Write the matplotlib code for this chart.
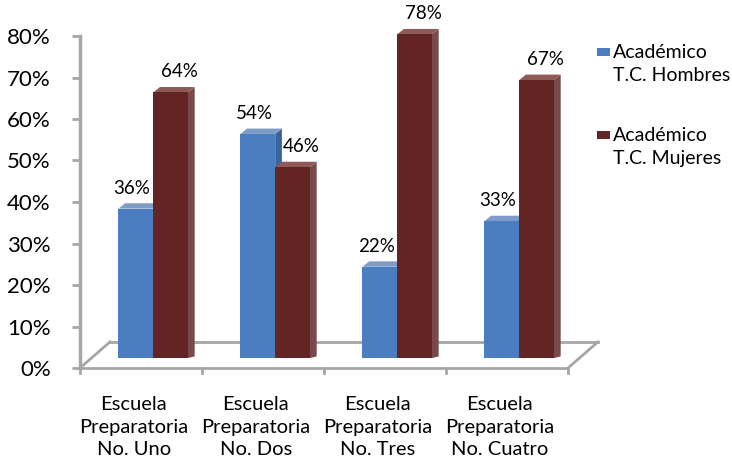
import numpy as np
import matplotlib.pyplot as plt
from matplotlib.patches import Rectangle, Polygon
from matplotlib.transforms import blended_transform_factory

plt.rcParams['font.family'] = ['Lato', 'DejaVu Sans']

escuelas = ['Escuela\nPreparatoria\nNo. Uno', 'Escuela\nPreparatoria\nNo. Dos',
            'Escuela\nPreparatoria\nNo. Tres', 'Escuela\nPreparatoria\nNo. Cuatro']
hombres = [36, 54, 22, 33]
mujeres = [64, 46, 78, 67]
series_names = ['Académico\nT.C. Hombres', 'Académico\nT.C. Mujeres']

# colours: front, side, top
c_blue = ('#4A7EC0', '#3A659C', '#7E9CC8')
c_red = ('#632523', '#7A4A4A', '#8E5A58')

fig = plt.figure(figsize=(7.32, 4.61), dpi=100)
W, H = 732, 461
ax = fig.add_axes([80 / W, (H - 368) / H, 520 / W, 332 / H])
ax.set_xlim(-0.5, -0.5 + 520 / 122)
ax.set_ylim(0, 80)
for s in ax.spines.values():
    s.set_visible(False)

grey = '#A6A6A6'
# 3D floor
ddx, ddy = 0.246, 6.3
ax.plot([-0.5, 3.5], [0, 0], color=grey, lw=2, clip_on=False, zorder=0.5)
ax.plot([-0.5, -0.5 + ddx], [0, ddy], color=grey, lw=2, clip_on=False, zorder=0.5)
ax.plot([-0.5 + ddx, 3.5 + ddx], [ddy, ddy], color=grey, lw=2, clip_on=False, zorder=0.5)
ax.plot([3.5, 3.5 + ddx], [0, ddy], color=grey, lw=2, clip_on=False, zorder=0.5)
ax.plot([-0.5, -0.5], [0, 80], color=grey, lw=2.5, clip_on=False, zorder=0.5)

ax.set_xticks([])
ax.set_yticks(np.arange(0, 81, 10))
ax.set_yticklabels(['%d%%' % v for v in range(0, 81, 10)], fontsize=16)
ax.tick_params(axis='y', length=6, width=2, color=grey, pad=15)
for xt in np.arange(-0.5, 3.6, 1):
    ax.plot([xt, xt], [0, -1.3], color=grey, lw=2, clip_on=False, zorder=0.5)

base = 2.4
bw = 0.285
shift = 0.1
sx, sy = 0.055, 1.3


def bar3d(x0, val, cols):
    front, side, top = cols
    y1 = base + val
    ax.add_patch(Polygon([[x0 + bw, base], [x0 + bw + sx, base + sy * 0.3],
                          [x0 + bw + sx, y1 + sy], [x0 + bw, y1]],
                         closed=True, fc=side, ec='none', clip_on=False, zorder=2))
    ax.add_patch(Polygon([[x0, y1], [x0 + sx, y1 + sy], [x0 + bw + sx, y1 + sy],
                          [x0 + bw, y1]], closed=True, fc=top, ec='none',
                         clip_on=False, zorder=2))
    ax.bar(x0, val, width=bw, bottom=base, align='edge', color=front,
           clip_on=False, zorder=2.1)


xs = np.arange(len(escuelas))
for i in xs:
    c = i + shift
    bar3d(c - bw, hombres[i], c_blue)
    bar3d(c, mujeres[i], c_red)
    ax.text(c - bw / 2 - 0.03, base + hombres[i] + 2.9, '%d%%' % hombres[i],
            ha='center', va='bottom', fontsize=13.5, clip_on=False)
    ax.text(c + bw / 2 + 0.07, base + mujeres[i] + 2.9, '%d%%' % mujeres[i],
            ha='center', va='bottom', fontsize=13.5, clip_on=False)

trans = blended_transform_factory(ax.transData, fig.transFigure)
for i, lab in enumerate(escuelas):
    ax.text(i - 0.06, (H - 427) / H, lab, transform=trans, ha='center', va='center',
            fontsize=14.5, linespacing=1.4, clip_on=False)

# legend
for k, (name, cols) in enumerate(zip(series_names, [c_blue, c_red])):
    ytop = 52 + 83 * k
    fig.patches.append(Rectangle(((597) / W, (H - ytop - 4) / H), 13 / W, 8 / H,
                                 transform=fig.transFigure, fc=cols[0], ec='none'))
    fig.text(613 / W, (H - ytop - 12) / H, name, ha='left', va='center',
             fontsize=14, linespacing=1.4)

fig.savefig('out.png', dpi=100)
